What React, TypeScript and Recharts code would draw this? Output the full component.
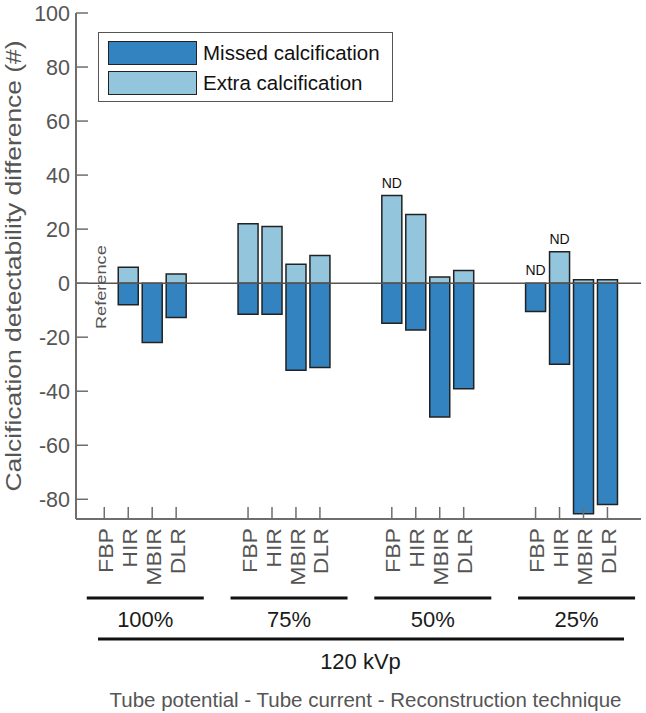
import { Bar, BarChart, LabelList, Legend, ReferenceDot, ReferenceLine, XAxis, YAxis } from 'recharts';

const techniques = ['FBP', 'HIR', 'MBIR', 'DLR'];
const tubeCurrents = ['100%', '75%', '50%', '25%'];
const tubePotential = '120 kVp';

// one value per bar, ordered 100% FBP..DLR, 75% FBP..DLR, ...
const missedValues = [0, -8, -22, -12.7, -11.5, -11.5, -32.2, -31.2, -14.8, -17.3, -49.5, -39.1, -10.5, -30, -85.4, -81.9];
const extraValues = [0, 5.9, 0, 3.4, 22, 21, 7, 10.2, 32.4, 25.4, 2.3, 4.7, 0, 11.6, 1.3, 1.3];
const notDetected = [8, 12, 13];
const referenceBar = 0;

const yTicks = [-80, -60, -40, -20, 0, 20, 40, 60, 80, 100];

const seriesNames = ['Missed calcification', 'Extra calcification'];
const seriesColors = ['#3283bf', '#93c6dd'];

const data = missedValues.map((m, i) => {
    const g = Math.floor(i / 4);
    const t = i % 4;
    return {
        pos: g * 6 + t + 1,
        tech: techniques[t],
        group: g,
        missed: m,
        extra: extraValues[i],
    };
});
const positions = data.map((d) => d.pos);

const FONT = '"Liberation Sans", Arial, Helvetica, sans-serif';
const GREY = '#555';
const AXIS = '#6e6e6e';

const YTick = (props: any) => {
    const { x, y, payload } = props;
    return (
        <g>
            <line x1={x} x2={x + 12} y1={y} y2={y} stroke={AXIS} strokeWidth={1.5} />
            <text x={x - 6} y={y} dy="0.36em" textAnchor="end" fontSize={21.5} fill={GREY} fontFamily={FONT}>
                {payload.value}
            </text>
        </g>
    );
};

const XTick = (props: any) => {
    const { x, y, payload } = props;
    const d = data.find((e) => e.pos === payload.value);
    if (!d) return null;
    const first = d.tech === techniques[0];
    return (
        <g>
            <line x1={x} x2={x} y1={y} y2={y - 12} stroke={AXIS} strokeWidth={1.5} />
            <text
                transform={`translate(${x + 1},${y + 9}) rotate(-90) scale(1.1,1)`}
                dy="0.36em"
                textAnchor="end"
                fontSize={21}
                fill={GREY}
                fontFamily={FONT}
            >
                {d.tech}
            </text>
            {first && (
                <g>
                    <line x1={x - 17.5} x2={x + 99.5} y1={y + 79} y2={y + 79} stroke="#111" strokeWidth={3} />
                    <text x={x + 41} y={y + 108} textAnchor="middle" fontSize={22} fill="#1a1a1a" fontFamily={FONT}>
                        {tubeCurrents[d.group]}
                    </text>
                </g>
            )}
        </g>
    );
};

const XLabel = (props: any) => {
    const { x, y, width } = props.viewBox;
    return (
        <g>
            <line x1={x + 22} x2={x + width - 17} y1={y + 120} y2={y + 120} stroke="#111" strokeWidth={3} />
            <text x={x + width / 2 + 2} y={y + 150} textAnchor="middle" fontSize={22} fill="#1a1a1a" fontFamily={FONT}>
                {tubePotential}
            </text>
            <text x={x + width / 2 + 7} y={y + 188} textAnchor="middle" fontSize={20.5} fill={GREY} fontFamily={FONT}>
                Tube potential - Tube current - Reconstruction technique
            </text>
        </g>
    );
};

const YLabel = (props: any) => {
    const { x, y, height } = props.viewBox;
    return (
        <text
            transform={`translate(${x + 13},${y + height / 2}) rotate(-90) scale(1.2,1)`}
            dy="0.36em"
            textAnchor="middle"
            fontSize={22}
            fill={GREY}
            fontFamily={FONT}
        >
            Calcification detectability difference (#)
        </text>
    );
};

const NdLabel = (props: any) => {
    const { x, y, width } = props.viewBox;
    return (
        <text x={x + width / 2} y={y - 8} textAnchor="middle" fontSize={14} fill="#111" fontFamily={FONT}>
            ND
        </text>
    );
};

const RefLabel = (props: any) => {
    const { x, y, width } = props.viewBox;
    return (
        <text
            transform={`translate(${x + width / 2 - 3},${y + 4}) rotate(-90) scale(1.3,1)`}
            dy="0.36em"
            textAnchor="middle"
            fontSize={14}
            fill={GREY}
            fontFamily={FONT}
        >
            Reference
        </text>
    );
};

const LegendBox = () => (
    <div
        style={{
            position: 'absolute',
            left: 98,
            top: 32,
            width: 295,
            height: 70,
            border: `1.5px solid ${GREY}`,
            background: '#fff',
            fontFamily: FONT,
            boxSizing: 'border-box',
            whiteSpace: 'nowrap',
        }}
    >
        {seriesNames.map((name, i) => (
            <div
                key={name}
                style={{ position: 'absolute', left: 9, top: 8 + i * 30, height: 24, display: 'flex', alignItems: 'center' }}
            >
                <div
                    style={{
                        width: 89,
                        height: 24,
                        background: seriesColors[i],
                        border: '1.5px solid #222',
                        boxSizing: 'border-box',
                        flex: 'none',
                    }}
                />
                <span style={{ marginLeft: 6, fontSize: 20.5, color: '#111', lineHeight: '24px' }}>{name}</span>
            </div>
        ))}
    </div>
);

export default function App() {
    return (
        <div style={{ position: 'absolute', left: 0, top: 0, width: 646, height: 713, background: '#fff' }}>
            <BarChart
                width={646}
                height={713}
                data={data}
                stackOffset="sign"
                margin={{ top: 13, right: 5, bottom: 0, left: 0 }}
            >
                <XAxis
                    dataKey="pos"
                    type="number"
                    domain={[-0.18, 23.4]}
                    ticks={positions}
                    interval={0}
                    height={194}
                    tickSize={0}
                    tickMargin={0}
                    tickLine={false}
                    axisLine={{ stroke: AXIS, strokeWidth: 2 }}
                    tick={<XTick />}
                    label={XLabel}
                    allowDataOverflow
                />
                <YAxis
                    type="number"
                    domain={[-87.3, 100]}
                    ticks={yTicks}
                    interval={0}
                    width={76}
                    tickSize={0}
                    tickMargin={0}
                    tickLine={false}
                    axisLine={{ stroke: AXIS, strokeWidth: 2 }}
                    tick={<YTick />}
                    label={YLabel}
                    allowDataOverflow
                />
                <ReferenceLine y={0} stroke={GREY} strokeWidth={1.5} />
                <Legend
                    content={() => <LegendBox />}
                    wrapperStyle={{ position: 'absolute', left: 0, top: 0, width: 0, height: 0 }}
                />
                <Bar
                    dataKey="missed"
                    name={seriesNames[0]}
                    stackId="a"
                    fill={seriesColors[0]}
                    stroke="#222"
                    strokeWidth={1.5}
                    barSize={20}
                    isAnimationActive={false}
                />
                <Bar
                    dataKey="extra"
                    name={seriesNames[1]}
                    stackId="a"
                    fill={seriesColors[1]}
                    stroke="#222"
                    strokeWidth={1.5}
                    barSize={20}
                    isAnimationActive={false}
                />
                <ReferenceDot
                    x={data[referenceBar].pos}
                    y={0}
                    r={0}
                    fill="none"
                    stroke="none"
                    label={RefLabel}
                />
                {notDetected.map((i) => (
                    <ReferenceDot
                        key={i}
                        x={data[i].pos}
                        y={data[i].extra}
                        r={0}
                        fill="none"
                        stroke="none"
                        label={NdLabel}
                    />
                ))}
            </BarChart>
        </div>
    );
}
